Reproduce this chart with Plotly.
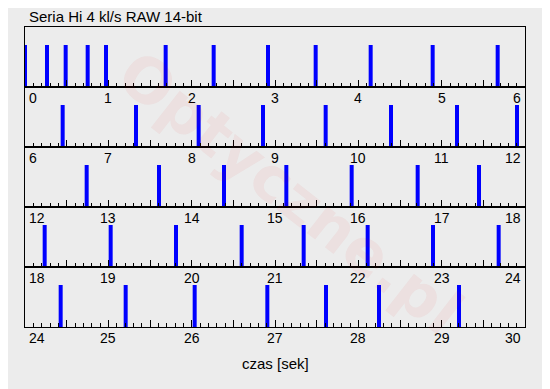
import plotly.graph_objects as go

title_text = "Seria Hi 4 kl/s RAW 14-bit"
x_title = "czas [sek]"
watermark = "Optyczne.pl"

# shot times in seconds
shot_times = [
    0.0, 0.264, 0.488, 0.752, 0.972, 1.688, 2.264, 2.916, 3.488, 4.148, 4.892, 5.672,
    6.452, 7.332, 8.084, 8.856, 9.608, 10.392, 11.184, 11.904,
    12.74, 13.608, 14.388, 15.136, 15.92, 16.712, 17.448,
    18.236, 19.028, 19.812, 20.6, 21.344, 22.112, 22.896, 23.684,
    24.428, 25.208, 26.036, 26.908, 27.612, 28.248, 29.208,
]
row_starts = [0, 6, 12, 18, 24]
row_span = 6
bar_height = 0.7

BG = "#ececec"
FONT = "Liberation Sans, Arial, sans-serif"

fig = go.Figure()
n_rows = len(row_starts)
annotations = []

for r, start in enumerate(row_starts):
    idx = "" if r == 0 else str(r + 1)
    xs, ys = [], []
    for t in shot_times:
        if start <= t < start + row_span or (r == n_rows - 1 and t == start + row_span):
            xs += [t, t, None]
            ys += [0, bar_height, None]
    fig.add_trace(go.Scatter(
        x=xs, y=ys, mode="lines", line=dict(color="#0000ff", width=4),
        xaxis="x" + idx, yaxis="y" + idx, cliponaxis=False,
        showlegend=False, hoverinfo="skip",
    ))
    top = 1 - r / n_rows
    bottom = 1 - (r + 1) / n_rows
    fig.update_layout(**{
        "xaxis" + idx: dict(
            domain=[0, 1], anchor="y" + idx, range=[start, start + row_span],
            showline=True, linecolor="black", linewidth=1, mirror=True,
            showgrid=False, zeroline=False, showticklabels=False,
            tickmode="linear", tick0=start, dtick=0.5,
            ticks="inside", ticklen=7, tickwidth=1, tickcolor="black",
            minor=dict(ticks="inside", ticklen=4, tickwidth=1, tickcolor="black",
                       tick0=start, dtick=0.1, showgrid=False),
        ),
        "yaxis" + idx: dict(
            domain=[bottom, top], anchor="x" + idx, range=[0, 1],
            showline=True, linecolor="black", linewidth=1, mirror=True,
            showgrid=False, zeroline=False, showticklabels=False, ticks="",
        ),
    })
    labels = list(range(start, start + row_span + 1))
    for j, lab in enumerate(labels):
        if j == 0:
            xa, xs_ = "left", 2
        elif j == len(labels) - 1:
            xa, xs_ = "right", -2
        else:
            xa, xs_ = "center", 0
        annotations.append(dict(
            x=lab, xref="x" + idx, y=0, yref="y" + idx + " domain",
            text=str(lab), showarrow=False, xanchor=xa, yanchor="top",
            xshift=xs_, yshift=-1, font=dict(family=FONT, size=14, color="black"),
        ))

annotations.append(dict(
    x=0, xref="paper", y=1, yref="paper", text=title_text, showarrow=False,
    xanchor="left", yanchor="bottom", xshift=2, yshift=0,
    font=dict(family=FONT, size=15, color="black"),
))
annotations.append(dict(
    x=0.5, xref="paper", y=0, yref="paper", text=x_title, showarrow=False,
    xanchor="center", yanchor="top", yshift=-26,
    font=dict(family=FONT, size=15, color="black"),
))
annotations.append(dict(
    x=0.53, xref="paper", y=0.45, yref="paper", text="<b>" + watermark + "</b>",
    showarrow=False, textangle=38,
    font=dict(family="DejaVu Sans", size=62, color="rgba(230,0,0,0.05)"),
))

# page body has an 8px margin: compensate so the plot area lands where the reference has it
fig.update_layout(
    width=542, height=381,
    margin=dict(l=17, r=25, t=19, b=62),
    paper_bgcolor=BG, plot_bgcolor=BG,
    annotations=annotations,
    showlegend=False,
)

fig.write_html("out.html")
